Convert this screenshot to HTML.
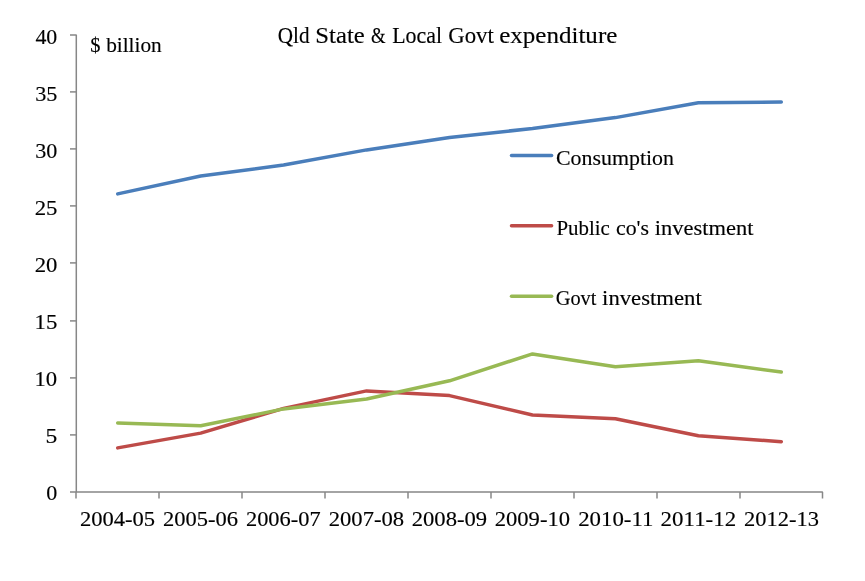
<!DOCTYPE html>
<html><head><meta charset="utf-8"><title>Qld State &amp; Local Govt expenditure</title>
<style>
html,body{margin:0;padding:0;background:#fff;}
body{width:865px;height:581px;overflow:hidden;font-family:"Liberation Serif",serif;}
svg{display:block;will-change:transform;}
#txt{filter:grayscale(1);}
text{font-family:"Liberation Serif",serif;fill:#000;stroke:#000;stroke-width:0.15;stroke-linejoin:round;}
</style></head><body>
<svg width="865" height="581" viewBox="0 0 865 581">
<rect width="865" height="581" fill="#fff"/>

<g stroke="#878787" stroke-width="1.5" fill="none">
<polyline stroke-linejoin="bevel" points="70.0,34.9 76.3,34.9 76.3,491.9"/>
<polyline stroke-linejoin="bevel" points="70.0,491.9 822.5,491.9 822.5,498.40"/>
<line x1="70.0" y1="434.90" x2="76.3" y2="434.90"/>
<line x1="70.0" y1="377.90" x2="76.3" y2="377.90"/>
<line x1="70.0" y1="320.90" x2="76.3" y2="320.90"/>
<line x1="70.0" y1="262.90" x2="76.3" y2="262.90"/>
<line x1="70.0" y1="205.90" x2="76.3" y2="205.90"/>
<line x1="70.0" y1="148.90" x2="76.3" y2="148.90"/>
<line x1="70.0" y1="91.90" x2="76.3" y2="91.90"/>
<line x1="76.00" y1="491.9" x2="76.00" y2="498.40"/>
<line x1="159.00" y1="491.9" x2="159.00" y2="498.40"/>
<line x1="242.00" y1="491.9" x2="242.00" y2="498.40"/>
<line x1="325.00" y1="491.9" x2="325.00" y2="498.40"/>
<line x1="408.00" y1="491.9" x2="408.00" y2="498.40"/>
<line x1="491.00" y1="491.9" x2="491.00" y2="498.40"/>
<line x1="574.00" y1="491.9" x2="574.00" y2="498.40"/>
<line x1="657.00" y1="491.9" x2="657.00" y2="498.40"/>
<line x1="740.00" y1="491.9" x2="740.00" y2="498.40"/>
</g>
<g id="txt">
<text id="t1" x="277.74" y="43.10" font-size="22.3" stroke-width="0.35" textLength="31.76" lengthAdjust="spacingAndGlyphs">Qld</text>
<text id="t2" x="315.37" y="43.10" font-size="22.3" stroke-width="0.35" textLength="49.38" lengthAdjust="spacingAndGlyphs">State</text>
<text id="t3" x="370.92" y="43.10" font-size="22.3" stroke-width="0.35" textLength="14.62" lengthAdjust="spacingAndGlyphs">&amp;</text>
<text id="t4" x="392.15" y="43.10" font-size="22.3" stroke-width="0.35" textLength="49.86" lengthAdjust="spacingAndGlyphs">Local</text>
<text id="t5" x="448.23" y="43.10" font-size="22.3" stroke-width="0.35" textLength="45.58" lengthAdjust="spacingAndGlyphs">Govt</text>
<text id="t6" x="499.21" y="43.10" font-size="22.3" stroke-width="0.35" textLength="118.12" lengthAdjust="spacingAndGlyphs">expenditure</text>
<text id="u1" x="90.22" y="52.20" font-size="21.5" stroke-width="0.35" textLength="10.19" lengthAdjust="spacingAndGlyphs">$</text>
<text id="u2" x="106.13" y="52.20" font-size="21.5" stroke-width="0.35" textLength="55.65" lengthAdjust="spacingAndGlyphs">billion</text>
<text id="l1" x="556.00" y="165.25" font-size="21.4" stroke-width="0.35" textLength="118.02" lengthAdjust="spacingAndGlyphs">Consumption</text>
<text id="l2" x="556.39" y="235.25" font-size="21.4" stroke-width="0.35" textLength="53.43" lengthAdjust="spacingAndGlyphs">Public</text>
<text id="l3" x="615.97" y="235.25" font-size="21.4" stroke-width="0.35" textLength="33.03" lengthAdjust="spacingAndGlyphs">co's</text>
<text id="l4" x="654.89" y="235.25" font-size="21.4" stroke-width="0.35" textLength="98.55" lengthAdjust="spacingAndGlyphs">investment</text>
<text id="l5" x="555.74" y="305.25" font-size="21.4" stroke-width="0.35" textLength="40.70" lengthAdjust="spacingAndGlyphs">Govt</text>
<text id="l6" x="602.09" y="305.25" font-size="21.4" stroke-width="0.35" textLength="99.68" lengthAdjust="spacingAndGlyphs">investment</text>
<text id="y0" x="46.29" y="500.22" font-size="20.5" stroke-width="0.15" textLength="11.02" lengthAdjust="spacingAndGlyphs">0</text>
<text id="y1" x="45.52" y="443.20" font-size="20.5" stroke-width="0.15" textLength="11.78" lengthAdjust="spacingAndGlyphs">5</text>
<text id="y2" x="34.51" y="386.18" font-size="20.5" stroke-width="0.15" textLength="22.70" lengthAdjust="spacingAndGlyphs">10</text>
<text id="y3" x="34.50" y="329.16" font-size="20.5" stroke-width="0.15" textLength="22.80" lengthAdjust="spacingAndGlyphs">15</text>
<text id="y4" x="34.71" y="272.14" font-size="20.5" stroke-width="0.15" textLength="22.71" lengthAdjust="spacingAndGlyphs">20</text>
<text id="y5" x="34.70" y="215.12" font-size="20.5" stroke-width="0.15" textLength="22.78" lengthAdjust="spacingAndGlyphs">25</text>
<text id="y6" x="35.24" y="158.10" font-size="20.5" stroke-width="0.15" textLength="22.10" lengthAdjust="spacingAndGlyphs">30</text>
<text id="y7" x="35.23" y="101.08" font-size="20.5" stroke-width="0.15" textLength="22.18" lengthAdjust="spacingAndGlyphs">35</text>
<text id="y8" x="35.41" y="44.06" font-size="20.5" stroke-width="0.15" textLength="21.84" lengthAdjust="spacingAndGlyphs">40</text>
<text id="x0" x="79.91" y="526.40" font-size="20.5" stroke-width="0.15" textLength="75.21" lengthAdjust="spacingAndGlyphs">2004-05</text>
<text id="x1" x="162.96" y="526.40" font-size="20.5" stroke-width="0.15" textLength="74.97" lengthAdjust="spacingAndGlyphs">2005-06</text>
<text id="x2" x="245.99" y="526.40" font-size="20.5" stroke-width="0.15" textLength="74.60" lengthAdjust="spacingAndGlyphs">2006-07</text>
<text id="x3" x="328.72" y="526.40" font-size="20.5" stroke-width="0.15" textLength="75.35" lengthAdjust="spacingAndGlyphs">2007-08</text>
<text id="x4" x="411.75" y="526.40" font-size="20.5" stroke-width="0.15" textLength="75.32" lengthAdjust="spacingAndGlyphs">2008-09</text>
<text id="x5" x="494.75" y="526.40" font-size="20.5" stroke-width="0.15" textLength="75.26" lengthAdjust="spacingAndGlyphs">2009-10</text>
<text id="x6" x="578.18" y="526.40" font-size="20.5" stroke-width="0.15" textLength="75.27" lengthAdjust="spacingAndGlyphs">2010-11</text>
<text id="x7" x="660.64" y="526.40" font-size="20.5" stroke-width="0.15" textLength="75.51" lengthAdjust="spacingAndGlyphs">2011-12</text>
<text id="x8" x="744.00" y="526.40" font-size="20.5" stroke-width="0.15" textLength="74.86" lengthAdjust="spacingAndGlyphs">2012-13</text>
</g>
<polyline points="117.7,193.9 200.7,176.0 283.6,165.0 366.6,149.9 449.5,137.4 532.5,128.5 615.4,117.6 698.4,102.8 781.3,102.0" fill="none" stroke="#4a7ebb" stroke-width="3.5" stroke-linecap="round" stroke-linejoin="round"/>
<polyline points="117.7,447.9 200.7,433.1 283.6,408.4 366.6,390.9 449.5,395.6 532.5,415.0 615.4,418.7 698.4,435.8 781.3,441.7" fill="none" stroke="#be4b48" stroke-width="3.5" stroke-linecap="round" stroke-linejoin="round"/>
<polyline points="117.7,422.9 200.7,425.8 283.6,408.9 366.6,399.0 449.5,380.8 532.5,353.9 615.4,366.8 698.4,360.8 781.3,372.0" fill="none" stroke="#98b954" stroke-width="3.5" stroke-linecap="round" stroke-linejoin="round"/>
<line x1="511.5" y1="155.4" x2="551.6" y2="155.4" stroke="#4a7ebb" stroke-width="3.5" stroke-linecap="round"/>
<line x1="511.5" y1="225.75" x2="551.6" y2="225.75" stroke="#be4b48" stroke-width="3.5" stroke-linecap="round"/>
<line x1="511.5" y1="296.2" x2="551.6" y2="296.2" stroke="#98b954" stroke-width="3.5" stroke-linecap="round"/>
</svg></body></html>
